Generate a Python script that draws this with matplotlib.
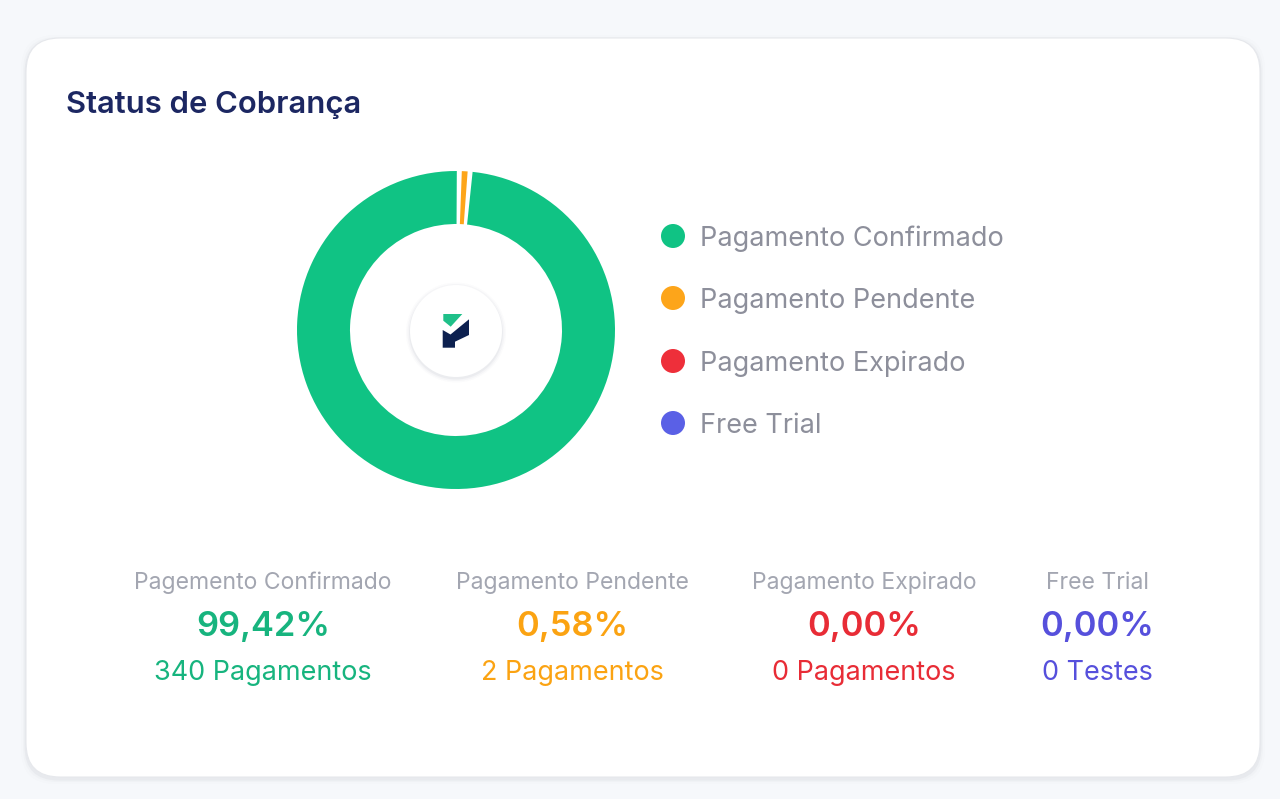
import matplotlib
matplotlib.use("Agg")
import matplotlib.pyplot as plt
from matplotlib.patches import Circle, FancyBboxPatch, Polygon, Wedge

W, H = 1280, 799

categories = ["Pagamento Confirmado", "Pagamento Pendente", "Pagamento Expirado", "Free Trial"]
stat_titles = ["Pagemento Confirmado", "Pagamento Pendente", "Pagamento Expirado", "Free Trial"]
counts = [340, 2, 0, 0]
percents = ["99,42%", "0,58%", "0,00%", "0,00%"]
count_labels = ["340 Pagamentos", "2 Pagamentos", "0 Pagamentos", "0 Testes"]
colors = ["#10c384", "#fda51a", "#ee2f3a", "#5a60e6"]
text_colors = ["#17b47e", "#fba312", "#e82c36", "#5650dc"]

plt.rcParams["font.family"] = ["Inter", "Roboto", "DejaVu Sans"]


def yy(y):
    # screen pixels run downwards, the axes upwards
    return H - y


def px(size):
    return size * 72 / 100


fig = plt.figure(figsize=(W / 100, H / 100), dpi=100, facecolor="#f6f8fb")
ax = fig.add_axes([0, 0, 1, 1], zorder=1)
ax.set_xlim(0, W)
ax.set_ylim(0, H)
ax.axis("off")

# --- Card with soft shadow ---
for grow, alpha in [(5, 0.012), (3, 0.025), (1.5, 0.05)]:
    ax.add_patch(FancyBboxPatch((60 - grow, yy(743) - 2 - grow), 1166 + 2 * grow, 671 + 2 * grow,
                                boxstyle="round,pad=34,rounding_size=34", fc="#5a6478", ec="none", alpha=alpha))
ax.add_patch(FancyBboxPatch((60, yy(743)), 1166, 671, boxstyle="round,pad=34,rounding_size=34",
                            fc="white", ec="#e6e8ec", lw=0.8))

ax.text(66, yy(105), "Status de Cobrança", fontsize=px(31), fontweight="semibold",
        color="#1c2762", va="center", ha="left")

# --- Donut ---
cx, cy, radius = 456, 330, 159
span = 2.5 * radius
ax_pie = fig.add_axes([(cx - span / 2) / W, (H - cy - span / 2) / H, span / W, span / H], zorder=2)
wedges, _ = ax_pie.pie(counts, colors=colors, startangle=85.8, counterclock=False, radius=1,
                       wedgeprops={"width": 1 / 3, "linewidth": 0})
orange = wedges[1]
gap = Wedge((0, 0), 1.01, orange.theta1 - 1.8, orange.theta2 + 1.8, width=1.02 / 3 + 0.01,
            fc="white", ec="none", zorder=3)
ax_pie.add_patch(gap)
orange.set_zorder(4)

# --- Centre badge with logo ---
ax_top = fig.add_axes([0, 0, 1, 1], zorder=3)
ax_top.set_xlim(0, W)
ax_top.set_ylim(0, H)
ax_top.axis("off")
for grow, alpha in [(4, 0.02), (2.5, 0.035), (1, 0.06)]:
    ax_top.add_patch(Circle((456, yy(332.5)), 46 + grow, fc="#5a6478", ec="none", alpha=alpha))
ax_top.add_patch(Circle((456, yy(331)), 46, fc="white", ec="none"))
green_mark = [(443.3, 314), (462.3, 314), (450.7, 326.7), (443.3, 320.7)]
navy_mark = [(442.7, 330), (450.5, 334.5), (469, 319.3), (469, 335), (455, 341.7), (455, 347.7), (442.7, 347.7)]
ax_top.add_patch(Polygon([(x, yy(y)) for x, y in green_mark], fc="#1fc089", ec="none"))
ax_top.add_patch(Polygon([(x, yy(y)) for x, y in navy_mark], fc="#0d2150", ec="none"))

# --- Legend ---
legend_y = [236, 298, 361, 423]
for name, color, y in zip(categories, colors, legend_y):
    ax.add_patch(Circle((673, yy(y)), 12, fc=color, ec="none"))
    ax.text(700, yy(y + 3), name, fontsize=px(27.1), color="#8d8f9b", va="center", ha="left")

# --- Stat columns ---
stat_x = [263, 572, 864, 1097]
for i, x in enumerate(stat_x):
    ax.text(x, yy(583), stat_titles[i], fontsize=px(23), color="#a3a6b1", va="center", ha="center")
    ax.text(x, yy(627), percents[i], fontsize=px(34.5), fontweight="semibold", color=text_colors[i],
            va="center", ha="center")
    ax.text(x, yy(673), count_labels[i], fontsize=px(27), color=text_colors[i], va="center", ha="center")

fig.savefig("out.png", dpi=100, facecolor=fig.get_facecolor())
